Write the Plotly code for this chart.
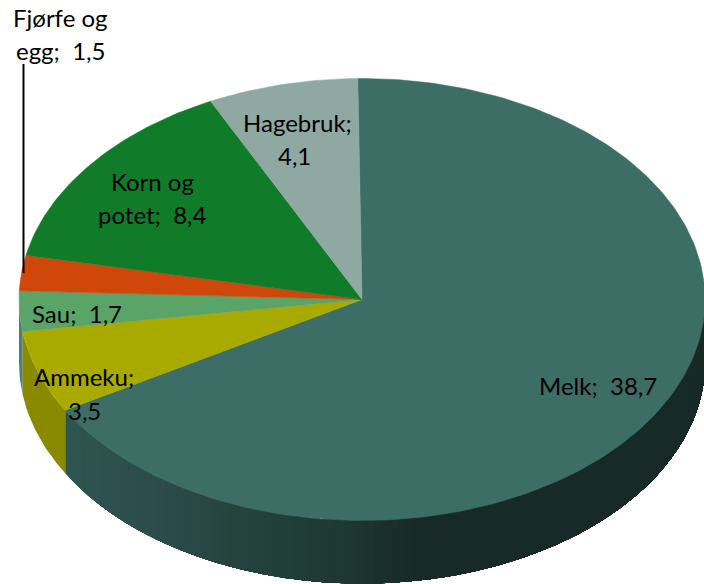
import math
import plotly.graph_objects as go

# Data
categories = ["Melk", "Ammeku", "Sau", "Fjørfe og egg", "Korn og potet", "Hagebruk"]
values = [38.7, 3.5, 1.7, 1.5, 8.4, 4.1]
label_lines = [["Melk;  38,7"], ["Ammeku;", "3,5"], ["Sau;  1,7"], ["Fjørfe og", "egg;  1,5"],
               ["Korn og", "potet;  8,4"], ["Hagebruk;", "4,1"]]

# Style
top_colors = ["#3d6e66", "#a8aa00", "#5aa468", "#d0470c", "#107c2a", "#8fa8a2"]
side_colors = ["#2a4a45", "#8a8a00", "#4f7f70", "#a5380a", "#0c5f20", "#6f8580"]
melk_side_stops = [(66, (47, 85, 80)), (180, (42, 74, 74)), (230, (38, 68, 62)), (340, (30, 56, 51)), (420, (24, 42, 39)), (704, (24, 42, 39))]
label_pos = [[(598, 385)], [(84, 376), (84, 410)], [(77, 313)], [(60, 17), (60, 50)],
             [(152, 181), (152, 214)], [(297, 122), (294, 155)]]
CX, CY, RX, RY, DEPTH = 362, 299.5, 343, 221, 63
START = -0.7

def pt(deg, dy=0.0):
    a = math.radians(deg)
    return CX + RX * math.sin(a), CY - RY * math.cos(a) + dy

def melk_color(x):
    for (x0, c0), (x1, c1) in zip(melk_side_stops, melk_side_stops[1:]):
        if x <= x1:
            f = max(0, (x - x0) / (x1 - x0))
            return "rgb(%d,%d,%d)" % tuple(round(a + (b - a) * f) for a, b in zip(c0, c1))
    return "rgb(24,42,39)"

total = sum(values)
bounds = [START]
for v in values:
    bounds.append(bounds[-1] + v / total * 360)

fig = go.Figure()

def poly(pts, color, name=None, edge=0):
    xs = [p[0] for p in pts] + [pts[0][0]]
    ys = [p[1] for p in pts] + [pts[0][1]]
    fig.add_trace(go.Scatter(x=xs, y=ys, mode="lines", fill="toself", fillcolor=color,
                             line=dict(width=edge, color=color), hoverinfo="skip", showlegend=False, name=name))

def wall(s0, s1, color, n=None):
    n = n or max(2, math.ceil(s1 - s0))
    top = [pt(s0 + (s1 - s0) * k / n) for k in range(n + 1)]
    bot = [pt(s1 - (s1 - s0) * k / n, DEPTH) for k in range(n + 1)]
    poly(top + bot, color)

# Side wall: visible from 90 deg to 270 deg (front half of the rim)
for i, (a0, a1) in enumerate(zip(bounds, bounds[1:])):
    lo, hi = max(a0, 90), min(a1, 270)
    if hi <= lo:
        continue
    if i == 0:
        # Melk wall is shaded left to right: paint from the right end, each band reaching to the far end
        steps = 150
        for k in range(steps):
            s1 = hi - (hi - lo) * k / steps
            mid = s1 - (hi - lo) / steps / 2
            wall(lo, s1, melk_color(pt(mid)[0]))
    else:
        wall(lo, hi, side_colors[i])

# Top faces
for i, (a0, a1) in enumerate(zip(bounds, bounds[1:])):
    n = max(2, math.ceil(a1 - a0))
    arc = [pt(a0 + (a1 - a0) * k / n) for k in range(n + 1)]
    poly([(CX, CY)] + arc, top_colors[i], categories[i], edge=0.5)

# Leader line for Fjørfe og egg
fig.add_trace(go.Scatter(x=[23.5, 23.5], y=[64, 273], mode="lines", line=dict(color="#000000", width=2),
                         hoverinfo="skip", showlegend=False))

for lines, positions in zip(label_lines, label_pos):
    for text, (x, y) in zip(lines, positions):
        fig.add_annotation(x=x, y=y, text=text.replace("  ", "\u00a0\u00a0"), showarrow=False, xref="x", yref="y",
                           font=dict(family="Lato", size=24, color="#000000"))

fig.update_xaxes(range=[0, 704], visible=False, fixedrange=True)
fig.update_yaxes(range=[584, 0], visible=False, fixedrange=True)
fig.update_layout(width=704, height=584, margin=dict(l=0, r=0, t=0, b=0), paper_bgcolor="#ffffff",
                  plot_bgcolor="#ffffff", showlegend=False)
fig.write_html("out.html", post_script="document.body.style.margin='0';", config={"displayModeBar": False})
